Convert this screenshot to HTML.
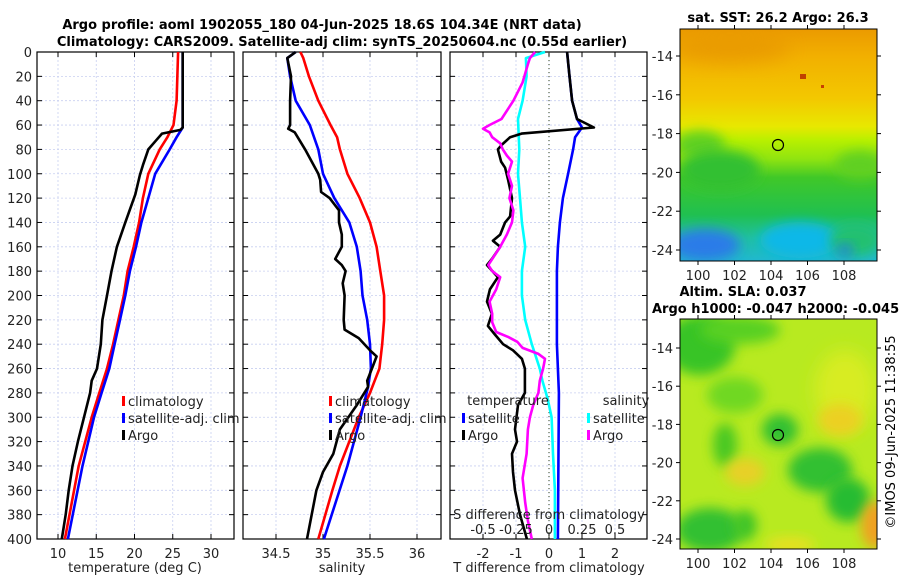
<!DOCTYPE html>
<html><head><meta charset="utf-8">
<style>
html,body{margin:0;padding:0;background:#fff;}
svg{display:block;font-family:"DejaVu Sans","Liberation Sans",sans-serif;}
</style></head>
<body>
<svg id="fig" width="900" height="580" viewBox="0 0 900 580" xmlns="http://www.w3.org/2000/svg">
<defs>
  <linearGradient id="sstGrad" x1="0" y1="0" x2="0" y2="1">
    <stop offset="0" stop-color="#eb9a00"/>
    <stop offset="0.12" stop-color="#f2b000"/>
    <stop offset="0.3" stop-color="#f3c800"/>
    <stop offset="0.42" stop-color="#e8e800"/>
    <stop offset="0.48" stop-color="#b8f000"/>
    <stop offset="0.56" stop-color="#90e410"/>
    <stop offset="0.64" stop-color="#40c828"/>
    <stop offset="0.8" stop-color="#20c050"/>
    <stop offset="0.9" stop-color="#20c0a0"/>
    <stop offset="1" stop-color="#20b8d0"/>
  </linearGradient>
  <filter id="blur6" x="-50%" y="-50%" width="200%" height="200%"><feGaussianBlur stdDeviation="6"/></filter>
  <filter id="blur9" x="-50%" y="-50%" width="200%" height="200%"><feGaussianBlur stdDeviation="9"/></filter>
  <clipPath id="clipTop"><rect x="680" y="29" width="197" height="232"/></clipPath>
  <clipPath id="clipBot"><rect x="680" y="319" width="197" height="230"/></clipPath>
</defs>

<text x="322" y="29" text-anchor="middle" font-size="13" font-weight="bold">Argo profile: aoml 1902055_180 04-Jun-2025 18.6S 104.34E (NRT data)</text>
<text x="342" y="46" text-anchor="middle" font-size="13" font-weight="bold">Climatology: CARS2009. Satellite-adj clim: synTS_20250604.nc (0.55d earlier)</text>

<g id="panels"></g>

<!-- SST map -->
<g>
  <text x="778" y="22" text-anchor="middle" font-size="13" font-weight="bold">sat. SST: 26.2 Argo: 26.3</text>
  <g clip-path="url(#clipTop)">
    <rect x="680" y="29" width="197" height="232" fill="url(#sstGrad)"/>
    <ellipse cx="730" cy="48" rx="60" ry="15" fill="#e89800" filter="url(#blur9)" opacity="0.8"/>
    <ellipse cx="700" cy="145" rx="25" ry="14" fill="#60d020" filter="url(#blur6)"/>
    <ellipse cx="720" cy="170" rx="40" ry="20" fill="#30c030" filter="url(#blur6)"/>
    <ellipse cx="860" cy="165" rx="25" ry="14" fill="#60d020" filter="url(#blur6)"/>
    <ellipse cx="705" cy="245" rx="35" ry="16" fill="#2c7ce8" filter="url(#blur6)"/>
    <ellipse cx="800" cy="240" rx="40" ry="18" fill="#10b8e8" filter="url(#blur6)"/>
    <ellipse cx="855" cy="240" rx="25" ry="16" fill="#20c070" filter="url(#blur6)"/>
    <ellipse cx="845" cy="250" rx="8" ry="6" fill="#2080e0" filter="url(#blur6)"/>
    <rect x="800" y="74" width="6" height="5" fill="#c04000"/>
    <rect x="821" y="85" width="3" height="3" fill="#c84000"/>
  </g>
  <rect x="680" y="29" width="197" height="232" fill="none" stroke="#000" stroke-width="1"/>
  <circle cx="778" cy="145" r="5.5" fill="none" stroke="#000" stroke-width="1.2"/>
  <g id="sstAxes"></g>
</g>

<!-- SLA map -->
<g>
  <text x="743" y="296" text-anchor="middle" font-size="13" font-weight="bold">Altim. SLA: 0.037</text>
  <text x="652" y="313" font-size="13" font-weight="bold">Argo h1000: -0.047 h2000: -0.045</text>
  <g clip-path="url(#clipBot)">
    <rect x="680" y="319" width="197" height="230" fill="#b8ea20"/>
    <ellipse cx="845" cy="390" rx="30" ry="40" fill="#d8ec20" filter="url(#blur9)"/>
    <ellipse cx="700" cy="345" rx="35" ry="30" fill="#38c428" filter="url(#blur6)"/>
    <ellipse cx="740" cy="330" rx="40" ry="14" fill="#58d020" filter="url(#blur6)"/>
    <ellipse cx="735" cy="395" rx="28" ry="18" fill="#70d820" filter="url(#blur6)"/>
    <ellipse cx="725" cy="445" rx="12" ry="22" fill="#48c820" filter="url(#blur6)"/>
    <ellipse cx="780" cy="430" rx="18" ry="16" fill="#30c030" filter="url(#blur6)"/>
    <ellipse cx="820" cy="470" rx="32" ry="22" fill="#30c030" filter="url(#blur6)"/>
    <ellipse cx="848" cy="500" rx="22" ry="22" fill="#28bc30" filter="url(#blur6)"/>
    <ellipse cx="710" cy="530" rx="34" ry="22" fill="#30c030" filter="url(#blur6)"/>
    <ellipse cx="745" cy="525" rx="12" ry="15" fill="#40c428" filter="url(#blur6)"/>
    <ellipse cx="745" cy="472" rx="20" ry="14" fill="#e8d028" filter="url(#blur6)"/>
    <ellipse cx="840" cy="420" rx="22" ry="16" fill="#ecd020" filter="url(#blur6)"/>
    <ellipse cx="875" cy="525" rx="14" ry="24" fill="#f0a020" filter="url(#blur6)"/>
    <ellipse cx="790" cy="545" rx="25" ry="8" fill="#e8e020" filter="url(#blur6)"/>
  </g>
  <rect x="680" y="319" width="197" height="230" fill="none" stroke="#000" stroke-width="1"/>
  <circle cx="778" cy="435" r="5.5" fill="none" stroke="#000" stroke-width="1.2"/>
  <g id="slaAxes"></g>
</g>

<text transform="translate(895,432) rotate(-90)" text-anchor="middle" font-size="13">©IMOS 09-Jun-2025 11:38:55</text>
</svg>

<script>
// ---- Data ----
const tDepthClim = [0,40,60,70,80,100,120,140,160,180,200,220,240,260,280,300,340,400];
const tClim = [25.7,25.5,25.1,24.3,23.3,21.8,21.1,20.6,19.9,19.1,18.6,17.9,17.2,16.4,15.4,14.4,12.7,10.9];
const tDepthSat = [0,62,70,80,100,120,140,160,180,200,220,240,260,280,300,340,400];
const tSat = [26.3,26.3,25.5,24.6,22.7,21.8,20.9,20.2,19.4,18.8,18.1,17.4,16.7,15.7,14.7,13.2,11.3];
const tDepthArgo = [0,62,64,67,72,80,93,101,117,140,160,180,200,220,240,260,270,280,300,320,340,360,380,400];
const tArgo = [26.3,26.3,26.0,23.6,22.9,21.8,21.1,20.7,20.1,18.8,17.7,17.0,16.4,15.8,15.6,15.1,14.4,14.2,13.4,12.6,11.9,11.4,11.0,10.5];

const sDepthClim = [0,5,20,40,60,70,80,100,120,140,160,180,200,220,240,260,270,280,300,340,360,400];
const sClim = [34.76,34.79,34.85,34.95,35.08,35.15,35.18,35.26,35.39,35.5,35.57,35.61,35.65,35.65,35.63,35.6,35.55,35.5,35.38,35.18,35.1,34.95];
const sDepthSat = [0,5,20,40,60,80,100,120,140,160,180,200,220,240,260,275,300,340,400];
const sSat = [34.71,34.62,34.65,34.71,34.86,34.95,35.0,35.12,35.28,35.36,35.4,35.42,35.47,35.5,35.51,35.48,35.4,35.26,35.01];
const sDepthArgo = [0,5,20,40,60,63,66,80,100,105,115,120,130,140,150,160,170,175,180,190,200,220,228,235,245,250,260,270,275,290,310,330,345,360,380,400];
const sArgo = [34.71,34.62,34.66,34.65,34.65,34.63,34.7,34.81,34.95,34.97,34.98,35.07,35.17,35.17,35.2,35.2,35.13,35.2,35.24,35.21,35.23,35.22,35.23,35.38,35.5,35.57,35.52,35.47,35.48,35.36,35.18,35.11,35.0,34.93,34.88,34.83];

const dtDepthSat = [0,20,40,55,62,70,80,100,120,140,160,180,240,280,400];
const dtSat = [0.55,0.62,0.7,0.85,1.0,0.79,0.73,0.58,0.42,0.33,0.27,0.24,0.24,0.3,0.27];
const dtDepthArgo = [0,20,40,55,62,67,70,76,80,90,95,105,120,135,140,150,155,160,170,175,185,195,205,215,225,232,240,245,252,260,280,290,310,320,330,345,360,380,400];
const dtArgo = [0.55,0.62,0.7,0.85,1.36,-0.83,-1.18,-1.42,-1.55,-1.45,-1.33,-1.24,-1.12,-1.18,-1.33,-1.48,-1.7,-1.48,-1.73,-1.88,-1.55,-1.79,-1.88,-1.73,-1.85,-1.64,-1.39,-1.09,-0.82,-0.73,-0.73,-0.94,-1.03,-0.97,-1.12,-1.09,-1.03,-0.88,-0.67];
const dsDepthSat = [0,5,20,40,55,80,100,120,140,160,180,200,220,240,260,270,285,300,330,360,400];
const dsSat = [-0.03,-0.175,-0.17,-0.2,-0.235,-0.225,-0.235,-0.22,-0.205,-0.18,-0.205,-0.205,-0.18,-0.13,-0.07,-0.05,-0.01,0.02,0.03,0.045,0.045];
const dsDepthArgo = [0,5,10,25,40,55,60,63,66,70,75,80,85,90,100,110,120,130,140,150,160,170,175,180,185,195,205,215,222,230,234,238,243,248,252,260,270,280,290,300,310,330,350,370,385,400];
const dsArgo = [-0.105,-0.145,-0.16,-0.2,-0.27,-0.36,-0.45,-0.5,-0.45,-0.43,-0.37,-0.35,-0.32,-0.28,-0.31,-0.28,-0.3,-0.27,-0.28,-0.32,-0.37,-0.43,-0.46,-0.43,-0.37,-0.4,-0.45,-0.43,-0.43,-0.4,-0.31,-0.24,-0.2,-0.08,-0.03,-0.045,-0.07,-0.08,-0.12,-0.145,-0.16,-0.17,-0.2,-0.18,-0.16,-0.13];

const depthTicks = [0,20,40,60,80,100,120,140,160,180,200,220,240,260,280,300,320,340,360,380,400];
const tTicks = [10,15,20,25,30];
const sTicks = [34.5,35,35.5,36];
const dTicks = [-2,-1,0,1,2];
const dsTicks = [-0.5,-0.25,0,0.25,0.5];
const dsTickLabels = ["-0.5","-0.25","0","0.25","0.5"];
const lonTicks = [100,102,104,106,108];
const sstLatTicks = [-14,-16,-18,-20,-22,-24];
const slaLatTicks = [-14,-16,-18,-20,-22,-24];

// ---- Helpers ----
const NS = "http://www.w3.org/2000/svg";
const root = document.getElementById('panels');
function mk(tag, attrs, parent){
  const e = document.createElementNS(NS, tag);
  for (const k in attrs) e.setAttribute(k, attrs[k]);
  (parent||root).appendChild(e);
  return e;
}
const Y0 = 52, Y1 = 539;
function yScale(d){ return Y0 + d/400*(Y1-Y0); }
function linScale(d0,d1,r0,r1){ return v => r0 + (v-d0)/(d1-d0)*(r1-r0); }

function panel(name, x0, x1, xs, ticks, labels, showY){
  const g = mk('g', {});
  
  
  ticks.forEach(t=>{
    const x = xs(t);
    const l = mk('line',{x1:x,x2:x,y1:Y0,y2:Y1,stroke:'#c8cff0','stroke-width':0.8,'stroke-dasharray':'2,2'},g);
    
    
  });
  depthTicks.forEach(d=>{
    const y = yScale(d);
    const l = mk('line',{x1:x0,x2:x1,y1:y,y2:y,stroke:'#c8cff0','stroke-width':0.8,'stroke-dasharray':'2,2'},g);
    
    
    mk('line',{x1:x0,x2:x0+5,y1:y,y2:y,stroke:'#000','stroke-width':1},g);
    mk('line',{x1:x1-5,x2:x1,y1:y,y2:y,stroke:'#000','stroke-width':1},g);
    if (showY){
      const t = mk('text',{x:x0-5,y:y+5,'text-anchor':'end','font-size':13,fill:'#222'},g);
      
      
      t.textContent = d;
    }
  });
  ticks.forEach((t,i)=>{
    const x = xs(t);
    mk('line',{x1:x,x2:x,y1:Y1,y2:Y1-5,stroke:'#000','stroke-width':1},g);
    mk('line',{x1:x,x2:x,y1:Y0,y2:Y0+5,stroke:'#000','stroke-width':1},g);
    const tl = mk('text',{x:x,y:Y1+19,'text-anchor':'middle','font-size':13,fill:'#222'},g);
    
    
    tl.textContent = labels ? labels[i] : t;
  });
  mk('rect',{x:x0,y:Y0,width:x1-x0,height:Y1-Y0,fill:'none',stroke:'#000','stroke-width':1.2},g);
  return g;
}
function series(g, name, xs, depths, vals, color){
  const pts = depths.map((d,i)=> xs(vals[i]).toFixed(1)+','+yScale(d).toFixed(1)).join(' ');
  const p = mk('polyline',{points:pts,fill:'none',stroke:color,'stroke-width':2.6,'stroke-linejoin':'round'},g);
  
  
}
function legendEntry(g, name, x, y, color, label){
  const e = mk('g',{},g);
  
  
  mk('rect',{x:x,y:y-9,width:3,height:10,fill:color},e);
  const t = mk('text',{x:x+6,y:y+1,'font-size':13,fill:'#222'},e);
  t.textContent = label;
}
function label(g, name, x, y, txt, anchor){
  const t = mk('text',{x:x,y:y,'text-anchor':anchor||'middle','font-size':13,fill:'#222'},g);
  
  
  t.textContent = txt;
}

// Panel 1: temperature
const xT = linScale(10,30,58,211);
const g1 = panel('temperature-panel',37,234,xT,tTicks,null,true);
series(g1,'temperature-climatology-line',xT,tDepthClim,tClim,'#ff0000');
series(g1,'temperature-satellite-line',xT,tDepthSat,tSat,'#0000ff');
series(g1,'temperature-argo-line',xT,tDepthArgo,tArgo,'#000000');
legendEntry(g1,'legend-climatology',122,405,'#ff0000','climatology');
legendEntry(g1,'legend-satellite-adj',122,422,'#0000ff','satellite-adj. clim');
legendEntry(g1,'legend-argo',122,439,'#000000','Argo');
label(g1,'x-axis-title-temperature',135,572,'temperature (deg C)');

// Panel 2: salinity
const xS = linScale(34.5,36,276,417);
const g2 = panel('salinity-panel',243,441,xS,sTicks,null,false);
series(g2,'salinity-climatology-line',xS,sDepthClim,sClim,'#ff0000');
series(g2,'salinity-satellite-line',xS,sDepthSat,sSat,'#0000ff');
series(g2,'salinity-argo-line',xS,sDepthArgo,sArgo,'#000000');
legendEntry(g2,'legend-climatology-2',329,405,'#ff0000','climatology');
legendEntry(g2,'legend-satellite-adj-2',329,422,'#0000ff','satellite-adj. clim');
legendEntry(g2,'legend-argo-2',329,439,'#000000','Argo');
label(g2,'x-axis-title-salinity',342,572,'salinity');

// Panel 3: differences
const xD = linScale(-2,2,483,615);
const xDS = v => xD(v*4);
const g3 = panel('difference-panel',450,647,xD,dTicks,null,false);
const z = mk('line',{x1:xD(0),x2:xD(0),y1:Y0,y2:Y1,stroke:'#334422','stroke-width':1,'stroke-dasharray':'1,3'},g3);


series(g3,'salinity-satellite-diff-line',xDS,dsDepthSat,dsSat,'#00ffff');
series(g3,'temperature-satellite-diff-line',xD,dtDepthSat,dtSat,'#0000ff');
series(g3,'temperature-argo-diff-line',xD,dtDepthArgo,dtArgo,'#000000');
series(g3,'salinity-argo-diff-line',xDS,dsDepthArgo,dsArgo,'#ff00ff');
label(g3,'legend-temperature-header',508,405,'temperature');
label(g3,'legend-salinity-header',626,405,'salinity');
legendEntry(g3,'legend-temp-satellite',462,422,'#0000ff','satellite');
legendEntry(g3,'legend-temp-argo',462,439,'#000000','Argo');
legendEntry(g3,'legend-sal-satellite',587,422,'#00ffff','satellite');
legendEntry(g3,'legend-sal-argo',587,439,'#ff00ff','Argo');
label(g3,'s-axis-title',549,519,'S difference from climatology');
dsTicks.forEach((t,i)=>{
  const tl = mk('text',{x:xDS(t),y:534,'text-anchor':'middle','font-size':13,fill:'#222'},g3);
  
  
  tl.textContent = dsTickLabels[i];
});
label(g3,'x-axis-title-t-difference',549,572,'T difference from climatology');

// Map axes
const lonX = linScale(100,108,698,844);
function mapAxes(gid, top, bottom, latY){
  const g = document.getElementById(gid);
  lonTicks.forEach(l=>{
    const x = lonX(l);
    mk('line',{x1:x,x2:x,y1:bottom,y2:bottom+4,stroke:'#000'},g);
    mk('line',{x1:x,x2:x,y1:top,y2:top-4,stroke:'#000'},g);
    const t = mk('text',{x:x,y:bottom+19,'text-anchor':'middle','font-size':13,fill:'#222'},g);
    
    
    t.textContent = l;
  });
  (gid==='sstAxes'?sstLatTicks:slaLatTicks).forEach(l=>{
    const y = latY(l);
    mk('line',{x1:680,x2:676,y1:y,y2:y,stroke:'#000'},g);
    mk('line',{x1:877,x2:881,y1:y,y2:y,stroke:'#000'},g);
    const t = mk('text',{x:673,y:y+5,'text-anchor':'end','font-size':13,fill:'#222'},g);
    
    
    t.textContent = l;
  });
}
mapAxes('sstAxes',29,261,linScale(-14,-24,56,250));
mapAxes('slaAxes',319,549,linScale(-14,-24,348,539));
</script>
</body></html>
